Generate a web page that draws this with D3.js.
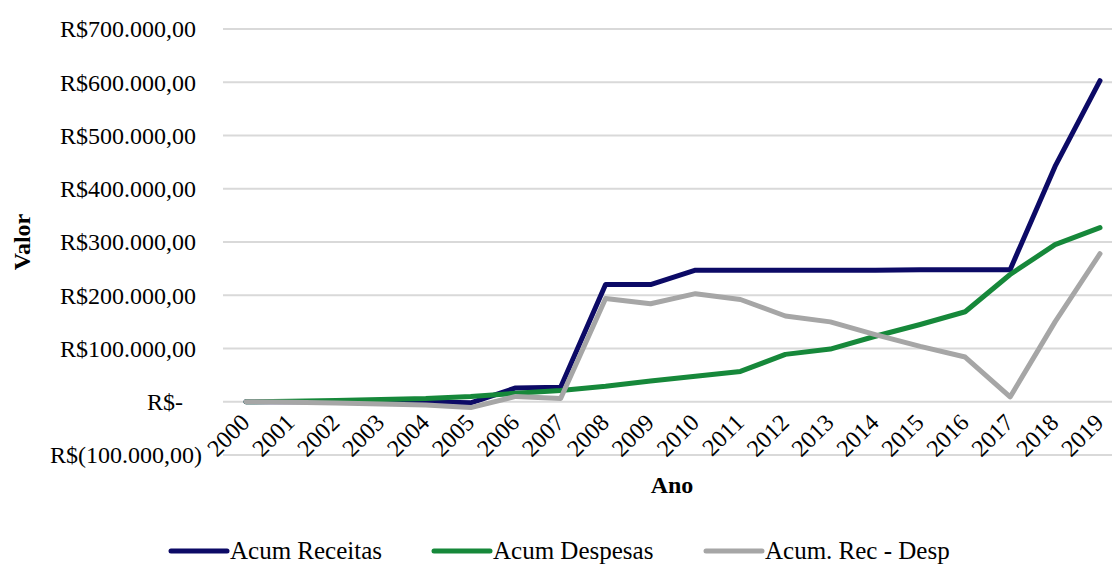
<!DOCTYPE html>
<html>
<head>
<meta charset="utf-8">
<script src="https://cdn.jsdelivr.net/npm/d3@7"></script>
<style>
  html, body { margin: 0; padding: 0; background: #fff; }
  svg text { font-family: "Liberation Serif", "Times New Roman", serif; }
</style>
</head>
<body>
<svg id="chart" width="1112" height="565"></svg>
<script>
// Anos da série
const years = ["2000","2001","2002","2003","2004","2005","2006","2007","2008","2009",
               "2010","2011","2012","2013","2014","2015","2016","2017","2018","2019"];

// Receitas acumuladas (R$)
const acumReceitas = [0, 0, 0, 0, 0, -2000, 26000, 27000, 220000, 220000,
                      247000, 247000, 247000, 247000, 247000, 248000, 248000, 248000, 442000, 603000];

// Despesas acumuladas (R$)
const acumDespesas = [0, 1000, 2500, 4000, 6000, 10000, 16000, 21000, 29000, 39000,
                      48000, 57000, 89000, 99000, 123000, 145000, 169000, 239000, 295000, 327000];

// Saldo acumulado: receitas - despesas (R$)
const acumSaldo = [0, -1000, -2500, -4000, -6000, -11000, 10000, 6000, 194000, 184000,
                   203000, 192000, 161000, 150000, 126000, 104000, 84000, 9000, 150000, 278000];

// Marcas do eixo Y
const yTicks = [-100000, 0, 100000, 200000, 300000, 400000, 500000, 600000, 700000];

const seriesNames = ["Acum Receitas", "Acum Despesas", "Acum. Rec - Desp"];
const seriesColors = ["#0c0a66", "#16883a", "#a6a6a6"];

const series = [acumReceitas, acumDespesas, acumSaldo].map((vals, i) => ({
  name: seriesNames[i],
  color: seriesColors[i],
  values: vals.map((v, j) => ({ year: years[j], value: v }))
}));

const FONT = "'Liberation Serif', 'Times New Roman', serif";
const svg = d3.select("#chart");

const x = d3.scalePoint().domain(years).range([246, 1100]);
const y = d3.scaleLinear().domain([-100000, 700000]).range([455, 29]);

// Formato contábil brasileiro
function fmtBRL(v) {
  if (v === 0) return "R$-";
  const s = d3.format(",.2f")(Math.abs(v)).replace(/,/g, "#").replace(".", ",").replace(/#/g, ".");
  return v < 0 ? "R$(" + s + ")" : "R$" + s;
}

// Linhas de grade
svg.append("g")
  .selectAll("line")
  .data(yTicks)
  .join("line")
  .attr("x1", 223).attr("x2", 1112)
  .attr("y1", d => y(d)).attr("y2", d => y(d))
  .attr("stroke", "#d9d9d9")
  .attr("stroke-width", 2);

// Rótulos do eixo Y
svg.append("g")
  .selectAll("text")
  .data(yTicks)
  .join("text")
  .attr("x", d => d === 0 ? 183 : (d < 0 ? 202 : 196))
  .attr("y", d => y(d))
  .attr("dy", "0.35em")
  .attr("text-anchor", "end")
  .attr("font-family", FONT)
  .attr("font-size", 24)
  .attr("fill", "#000")
  .text(fmtBRL);

// Rótulos do eixo X (inclinados)
svg.append("g")
  .selectAll("text")
  .data(years)
  .join("text")
  .attr("transform", d => `translate(${x(d) + 5},${424}) rotate(-45)`)
  .attr("text-anchor", "end")
  .attr("font-family", FONT)
  .attr("font-size", 24)
  .attr("fill", "#000")
  .text(d => d);

// Títulos dos eixos
svg.append("text")
  .attr("transform", "translate(30,242) rotate(-90)")
  .attr("text-anchor", "middle")
  .attr("font-family", FONT)
  .attr("font-size", 24)
  .attr("font-weight", "bold")
  .text("Valor");

svg.append("text")
  .attr("x", 672).attr("y", 493)
  .attr("text-anchor", "middle")
  .attr("font-family", FONT)
  .attr("font-size", 24)
  .attr("font-weight", "bold")
  .text("Ano");

// Linhas das séries
const line = d3.line()
  .x(d => x(d.year))
  .y(d => y(d.value));

svg.append("g")
  .selectAll("path")
  .data(series)
  .join("path")
  .attr("d", d => line(d.values))
  .attr("fill", "none")
  .attr("stroke", d => d.color)
  .attr("stroke-width", 5)
  .attr("stroke-linejoin", "round")
  .attr("stroke-linecap", "round");

// Legenda
const legendX = [171, 434, 706];
const legend = svg.append("g")
  .selectAll("g")
  .data(series)
  .join("g")
  .attr("transform", (d, i) => `translate(${legendX[i]},551)`);

legend.append("line")
  .attr("x1", 0).attr("x2", 56)
  .attr("y1", 0).attr("y2", 0)
  .attr("stroke", d => d.color)
  .attr("stroke-width", 5)
  .attr("stroke-linecap", "round");

legend.append("text")
  .attr("x", 59).attr("y", 0)
  .attr("dy", "0.3em")
  .attr("font-family", FONT)
  .attr("font-size", 25)
  .attr("fill", "#000")
  .text(d => d.name);
</script>
</body>
</html>
